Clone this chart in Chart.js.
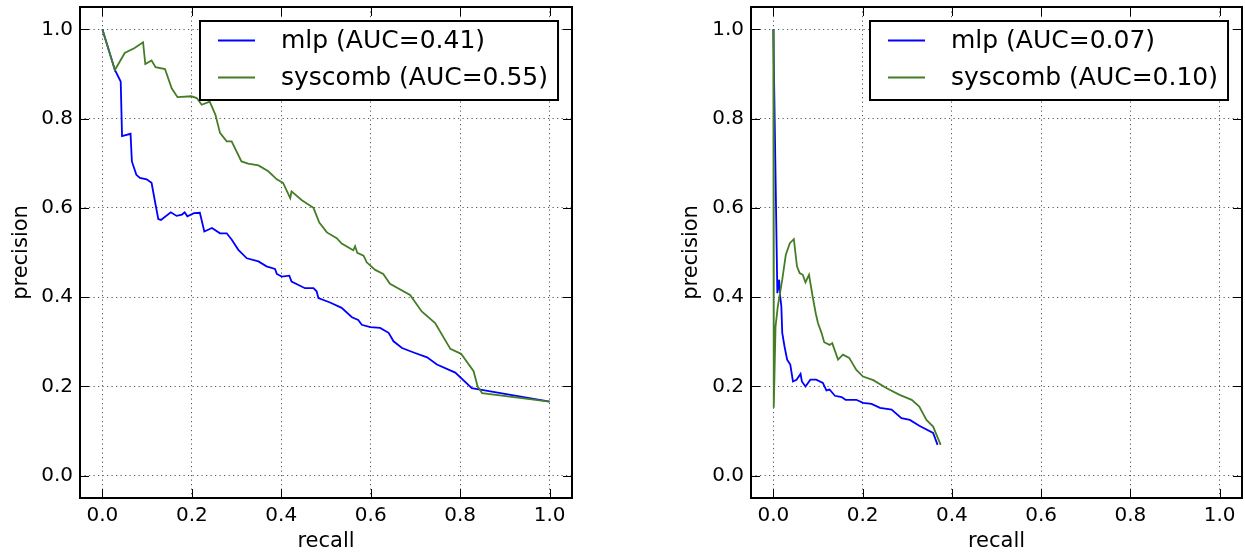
<!DOCTYPE html>
<html>
<head>
<meta charset="utf-8">
<script src="https://cdn.jsdelivr.net/npm/chart.js@4/dist/chart.umd.min.js"></script>
<style>
  body { margin: 0; background: #fff; }
  canvas { position: absolute; top: 0; }
  #prLeft { left: 0; }
  #prRight { left: 670px; }
</style>
</head>
<body>
<canvas id="prLeft" width="620" height="554"></canvas>
<canvas id="prRight" width="575" height="554"></canvas>
<script>
// left panel
const mlpRecallL = [0, 0.028, 0.041, 0.044, 0.063, 0.066, 0.076, 0.084, 0.099, 0.110, 0.119, 0.125, 0.131, 0.153, 0.166, 0.178, 0.184, 0.190, 0.205, 0.218, 0.228, 0.245, 0.263, 0.278, 0.289, 0.304, 0.323, 0.349, 0.367, 0.386, 0.390, 0.401, 0.418, 0.423, 0.453, 0.472, 0.479, 0.483, 0.509, 0.535, 0.558, 0.572, 0.580, 0.599, 0.621, 0.640, 0.651, 0.670, 0.696, 0.726, 0.748, 0.789, 0.826, 0.845, 1.0];
const mlpPrecisionL = [1.0, 0.909, 0.883, 0.761, 0.766, 0.704, 0.674, 0.667, 0.664, 0.656, 0.607, 0.575, 0.573, 0.590, 0.582, 0.585, 0.590, 0.581, 0.588, 0.589, 0.547, 0.555, 0.543, 0.543, 0.529, 0.506, 0.487, 0.480, 0.469, 0.463, 0.452, 0.446, 0.448, 0.435, 0.420, 0.420, 0.413, 0.398, 0.388, 0.376, 0.355, 0.349, 0.338, 0.333, 0.331, 0.320, 0.301, 0.286, 0.276, 0.265, 0.249, 0.231, 0.196, 0.193, 0.166];
const sysRecallL = [0, 0.028, 0.050, 0.072, 0.091, 0.096, 0.110, 0.119, 0.140, 0.155, 0.168, 0.199, 0.211, 0.222, 0.240, 0.253, 0.263, 0.278, 0.289, 0.311, 0.326, 0.349, 0.371, 0.390, 0.404, 0.420, 0.423, 0.446, 0.472, 0.485, 0.502, 0.524, 0.535, 0.561, 0.565, 0.570, 0.584, 0.591, 0.610, 0.628, 0.643, 0.688, 0.714, 0.744, 0.778, 0.802, 0.830, 0.839, 0.849, 1.0];
const sysPrecisionL = [1.0, 0.909, 0.947, 0.958, 0.971, 0.922, 0.930, 0.915, 0.911, 0.868, 0.848, 0.850, 0.846, 0.831, 0.838, 0.808, 0.768, 0.749, 0.749, 0.704, 0.699, 0.695, 0.682, 0.664, 0.656, 0.622, 0.637, 0.617, 0.600, 0.567, 0.545, 0.532, 0.520, 0.505, 0.514, 0.499, 0.493, 0.478, 0.461, 0.452, 0.430, 0.405, 0.368, 0.342, 0.284, 0.273, 0.234, 0.200, 0.185, 0.166];
const labelsL = ['mlp (AUC=0.41)', 'syscomb (AUC=0.55)'];

// right panel
const mlpRecallR = [0, 0.009, 0.013, 0.015, 0.018, 0.020, 0.025, 0.031, 0.038, 0.044, 0.052, 0.061, 0.064, 0.072, 0.083, 0.096, 0.111, 0.119, 0.126, 0.138, 0.153, 0.162, 0.186, 0.201, 0.220, 0.239, 0.265, 0.287, 0.306, 0.327, 0.358, 0.368];
const mlpPrecisionR = [1.0, 0.409, 0.439, 0.405, 0.379, 0.320, 0.290, 0.260, 0.249, 0.211, 0.215, 0.228, 0.211, 0.200, 0.215, 0.215, 0.208, 0.191, 0.193, 0.179, 0.176, 0.170, 0.170, 0.163, 0.161, 0.152, 0.148, 0.129, 0.125, 0.112, 0.096, 0.069];
const sysRecallR = [0, 0.001, 0.005, 0.010, 0.020, 0.028, 0.037, 0.046, 0.053, 0.059, 0.066, 0.072, 0.080, 0.088, 0.095, 0.100, 0.108, 0.114, 0.126, 0.132, 0.145, 0.156, 0.170, 0.186, 0.201, 0.224, 0.254, 0.283, 0.310, 0.327, 0.343, 0.358, 0.375];
const sysPrecisionR = [1.0, 0.152, 0.334, 0.379, 0.439, 0.495, 0.521, 0.530, 0.469, 0.454, 0.450, 0.433, 0.450, 0.402, 0.364, 0.342, 0.320, 0.299, 0.293, 0.297, 0.260, 0.271, 0.264, 0.237, 0.222, 0.214, 0.196, 0.181, 0.170, 0.155, 0.125, 0.110, 0.069];
const labelsR = ['mlp (AUC=0.07)', 'syscomb (AUC=0.10)'];

Chart.defaults.font.family = '"DejaVu Sans", sans-serif';
Chart.defaults.color = '#000';

const toPoints = (xs, ys) => xs.map((v, i) => ({ x: v, y: ys[i] }));

// frame, inward ticks on all sides, boxed legend
const framePlugin = {
    id: 'frame',
    afterDraw(chart) {
        const { ctx, chartArea: a, scales: { x, y } } = chart;
        ctx.save();
        ctx.strokeStyle = '#000';
        ctx.lineWidth = 1;
        ctx.beginPath();
        x.ticks.forEach(t => {
            const px = Math.round(x.getPixelForValue(t.value)) + 0.5;
            ctx.moveTo(px, a.bottom); ctx.lineTo(px, a.bottom - 9);
            ctx.moveTo(px, a.top); ctx.lineTo(px, a.top + 9);
        });
        y.ticks.forEach(t => {
            const py = Math.round(y.getPixelForValue(t.value)) + 0.5;
            ctx.moveTo(a.left, py); ctx.lineTo(a.left + 9, py);
            ctx.moveTo(a.right, py); ctx.lineTo(a.right - 9, py);
        });
        ctx.stroke();
        ctx.lineWidth = 2;
        ctx.strokeRect(a.left, a.top, a.width, a.height);

        // legend
        const names = chart.options.plugins.boxLegend.labels;
        const colors = chart.data.datasets.map(d => d.borderColor);
        ctx.font = '25px "DejaVu Sans"';
        const w = Math.max(...names.map(n => ctx.measureText(n).width));
        const boxW = 81 + w + 10, boxH = 79;
        const bx = Math.round(a.right - 14 - boxW), by = Math.round(a.top + 14);
        ctx.fillStyle = '#fff';
        ctx.fillRect(bx, by, boxW, boxH);
        ctx.lineWidth = 2;
        ctx.strokeRect(bx, by, boxW, boxH);
        names.forEach((n, i) => {
            const ly = by + 19.5 + i * 37;
            ctx.strokeStyle = colors[i];
            ctx.lineWidth = 1.8;
            ctx.beginPath();
            ctx.moveTo(bx + 18, ly); ctx.lineTo(bx + 55, ly);
            ctx.stroke();
            ctx.fillStyle = '#000';
            ctx.textBaseline = 'middle';
            ctx.fillText(n, bx + 81, ly + 1);
        });
        ctx.restore();
    }
};

function makePanel(id, mlpR, mlpP, sysR, sysP, names, yWidth, padRight) {
    return new Chart(document.getElementById(id), {
        type: 'scatter',
        data: {
            datasets: [{
                label: names[0],
                data: toPoints(mlpR, mlpP),
                showLine: true,
                borderColor: '#0000ff',
                borderWidth: 1.8,
                pointRadius: 0,
                order: 1
            }, {
                label: names[1],
                data: toPoints(sysR, sysP),
                showLine: true,
                borderColor: '#457d26',
                borderWidth: 1.8,
                pointRadius: 0,
                order: 0
            }]
        },
        options: {
            responsive: false,
            animation: false,
            layout: { padding: { top: 7, right: padRight, bottom: 0, left: 0 } },
            plugins: {
                legend: { display: false },
                tooltip: { enabled: false },
                boxLegend: { labels: names }
            },
            scales: {
                x: {
                    type: 'linear',
                    min: -0.05,
                    max: 1.05,
                    afterFit: s => { s.height = 56; s.paddingLeft = 0; s.paddingRight = 0; },
                    grid: { color: '#555', lineWidth: 1, drawTicks: false },
                    border: { display: false, dash: [1.2, 3.3] },
                    ticks: {
                        stepSize: 0.2,
                        includeBounds: false,
                        padding: 6,
                        maxRotation: 0,
                        font: { size: 20 },
                        callback: v => v.toFixed(1)
                    },
                    title: { display: true, text: 'recall', font: { size: 21 }, padding: { top: 0, bottom: 0 } }
                },
                y: {
                    type: 'linear',
                    min: -0.05,
                    max: 1.05,
                    afterFit: s => { s.width = yWidth; s.paddingTop = 0; s.paddingBottom = 0; },
                    grid: { color: '#555', lineWidth: 1, drawTicks: false },
                    border: { display: false, dash: [1.2, 3.3] },
                    ticks: {
                        stepSize: 0.2,
                        includeBounds: false,
                        padding: 7,
                        font: { size: 20 },
                        callback: v => v.toFixed(1)
                    },
                    title: { display: true, text: 'precision', font: { size: 21 }, padding: { top: 9, bottom: 0 } }
                }
            }
        },
        plugins: [framePlugin]
    });
}

makePanel('prLeft', mlpRecallL, mlpPrecisionL, sysRecallL, sysPrecisionL, labelsL, 80, 48);
makePanel('prRight', mlpRecallR, mlpPrecisionR, sysRecallR, sysPrecisionR, labelsR, 81, 3);
</script>
</body>
</html>
